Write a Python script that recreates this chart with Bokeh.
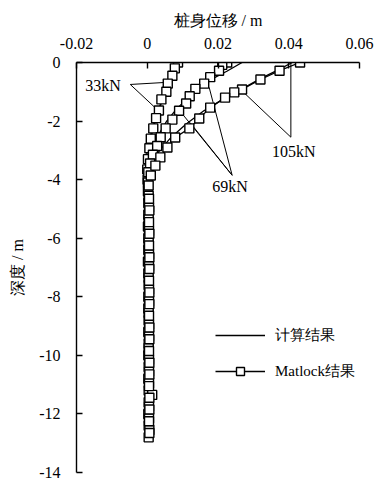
from bokeh.plotting import figure
from bokeh.models import Range1d, Legend, LegendItem, FixedTicker
from bokeh.core.properties import value
from bokeh.embed import file_html
from bokeh.resources import INLINE

# ---------------- data ----------------
x_ticks = [-0.02, 0, 0.02, 0.04, 0.06]
x_tick_labels = ["-0.02", "0", "0.02", "0.04", "0.06"]
y_ticks = [0, -2, -4, -6, -8, -10, -12, -14]
y_tick_labels = ["0", "-2", "-4", "-6", "-8", "-10", "-12", "-14"]

# computed results (计算结果)
calc33_depth = [0, -0.3, -0.7, -1.1, -1.5, -2.0, -2.5, -3.0, -3.5, -4.0, -4.5, -5.5, -7.0, -12.8]
calc33_disp = [0.0085, 0.0076, 0.0064, 0.0050, 0.0036, 0.0021, 0.0009, 0.0000, -0.0005, -0.0006, -0.0004, -0.0001, 0.0000, 0.0000]

calc69_depth = [0, -0.3, -0.55, -0.85, -1.2, -1.6, -2.0, -2.5, -3.0, -3.5, -4.0, -4.5, -5.5, -7.0, -12.8]
calc69_disp = [0.0268, 0.0225, 0.0185, 0.0150, 0.0115, 0.0082, 0.0055, 0.0030, 0.0012, 0.0000, -0.0006, -0.0005, -0.0002, 0.0000, 0.0000]

calc105_depth = [0, -0.25, -0.55, -0.9, -1.25, -1.65, -2.1, -2.55, -3.0, -3.45, -3.9, -4.3, -5.0, -6.0, -7.5, -12.8]
calc105_disp = [0.0410, 0.0370, 0.0320, 0.0268, 0.0215, 0.0160, 0.0110, 0.0068, 0.0035, 0.0012, -0.0002, -0.0006, -0.0004, -0.0001, 0.0000, 0.0000]

# Matlock results (Matlock结果)
mat33_depth = [0, -0.2, -0.45, -0.72, -1.0, -1.26, -1.64, -1.9, -2.25, -2.6, -2.93, -3.3, -3.65, -4.0,
               -4.4, -4.8, -5.2, -5.6, -6.0, -6.4, -6.8, -7.2, -7.6, -8.0, -8.4, -8.8, -9.2, -9.6,
               -10.0, -10.4, -10.8, -11.2, -11.6, -12.0, -12.4, -12.8]
mat33_disp = [0.0087, 0.0078, 0.0071, 0.0058, 0.0054, 0.0040, 0.0033, 0.0025, 0.0017, 0.0010, 0.0006, 0.0002, 0.0000, 0.0001,
              0.0002, 0.0003, 0.0003, 0.0002, 0.0003, 0.0003, 0.0002, 0.0003, 0.0004, 0.0003, 0.0003, 0.0004, 0.0003, 0.0004,
              0.0003, 0.0004, 0.0003, 0.0004, 0.0004, 0.0003, 0.0004, 0.0004]

mat69_depth = [0, -0.08, -0.28, -0.5, -0.72, -0.9, -1.15, -1.4, -1.65, -1.95, -2.25, -2.55, -2.85, -3.15, -3.45, -3.75,
               -4.1, -4.55, -4.95, -5.35, -5.75, -6.15, -6.55, -6.95, -7.35, -7.75, -8.15, -8.55, -8.95,
               -9.35, -9.75, -10.15, -10.55, -10.95, -11.35, -11.75, -12.15, -12.55]
mat69_disp = [0.0226, 0.0212, 0.0203, 0.0178, 0.0161, 0.0136, 0.0120, 0.0110, 0.0090, 0.0071, 0.0052, 0.0038, 0.0028, 0.0016, 0.0008, 0.0003,
              0.0002, 0.0004, 0.0005, 0.0004, 0.0005, 0.0004, 0.0005, 0.0005, 0.0004, 0.0005, 0.0005, 0.0004, 0.0005,
              0.0005, 0.0004, 0.0005, 0.0005, 0.0005, 0.0014, 0.0005, 0.0005, 0.0006]

mat105_depth = [0, -0.28, -0.58, -0.92, -1.02, -1.2, -1.54, -1.91, -2.25, -2.56, -2.9, -3.24, -3.52, -3.86, -4.2,
                -4.65, -5.05, -5.45, -5.85, -6.25, -6.65, -7.05, -7.45, -7.85, -8.25, -8.65, -9.05, -9.45,
                -9.85, -10.25, -10.65, -11.05, -11.45, -11.85, -12.25, -12.65]
mat105_disp = [0.0432, 0.0374, 0.0320, 0.0268, 0.0246, 0.0220, 0.0178, 0.0147, 0.0119, 0.0079, 0.0057, 0.0037, 0.0023, 0.0010, 0.0004,
               0.0005, 0.0006, 0.0005, 0.0006, 0.0005, 0.0006, 0.0006, 0.0005, 0.0006, 0.0006, 0.0005, 0.0006, 0.0006,
               0.0005, 0.0006, 0.0006, 0.0005, 0.0006, 0.0006, 0.0005, 0.0006]

# load-case labels and their leader lines
load_labels = ["33kN", "69kN", "105kN"]
label_x = [-0.0175, 0.0184, 0.0353]
label_y = [-0.80, -4.25, -3.05]
leader_x0 = [-0.0048, -0.0048, 0.0240, 0.0240, 0.0240, 0.0406, 0.0406]
leader_y0 = [-0.75, -0.75, -3.85, -3.85, -3.85, -2.55, -2.55]
leader_x1 = [0.0052, 0.0031, 0.0175, 0.0090, 0.0121, 0.0406, 0.0262]
leader_y1 = [-0.68, -1.64, -0.85, -1.62, -2.05, 0.0, -0.90]

SERIF = "Liberation Serif"

# ---------------- figure ----------------
p = figure(width=376, height=480, x_range=Range1d(-0.02, 0.06), y_range=Range1d(-14, 0),
           output_backend="svg", toolbar_location=None, x_axis_location="above",
           min_border_left=76, min_border_right=17, min_border_top=62, min_border_bottom=8)
p.outline_line_color = None
p.grid.visible = False
p.background_fill_color = "white"
p.border_fill_color = "white"

for ax, ticks, labels, lab in [(p.xaxis[0], x_ticks, x_tick_labels, "桩身位移 / m"),
                               (p.yaxis[0], y_ticks, y_tick_labels, "深度 / m")]:
    ax.ticker = FixedTicker(ticks=ticks)
    ax.major_label_overrides = {t: l for t, l in zip(ticks, labels)}
    ax.axis_line_color = "black"
    ax.axis_line_width = 1.4
    ax.major_tick_line_color = "black"
    ax.major_tick_line_width = 1.4
    ax.major_tick_in = 6
    ax.major_tick_out = 0
    ax.minor_tick_line_color = None
    ax.major_label_text_font = SERIF
    ax.major_label_text_font_size = "16px"
    ax.major_label_text_color = "black"
    ax.axis_label = lab
    ax.axis_label_text_font = SERIF
    ax.axis_label_text_font_style = "normal"
    ax.axis_label_text_font_size = "16px"
    ax.axis_label_text_color = "black"

p.xaxis.major_label_standoff = 14
p.xaxis.axis_label_standoff = 6
p.yaxis.major_label_standoff = 16
p.yaxis.axis_label_standoff = 10

# leader lines
p.segment(x0=leader_x0, y0=leader_y0, x1=leader_x1, y1=leader_y1, line_color="black", line_width=1.0)

# Matlock connecting lines
lw = 1.3
m_lines = []
for xs, ys in [(mat33_disp, mat33_depth), (mat69_disp, mat69_depth), (mat105_disp, mat105_depth)]:
    m_lines.append(p.line(xs, ys, line_color="black", line_width=lw))

# computed lines
c_lines = []
for xs, ys in [(calc33_disp, calc33_depth), (calc69_disp, calc69_depth), (calc105_disp, calc105_depth)]:
    c_lines.append(p.line(xs, ys, line_color="black", line_width=lw))

# Matlock markers
m_marks = []
for xs, ys in [(mat33_disp, mat33_depth), (mat69_disp, mat69_depth), (mat105_disp, mat105_depth)]:
    m_marks.append(p.scatter(xs, ys, marker="square", size=9, fill_color="white",
                             line_color="black", line_width=1.4))

# load-case text
p.text(x=label_x, y=label_y, text=load_labels, text_font=value(SERIF), text_font_size="16px",
       text_color="black", text_baseline="middle", text_align="left")

legend = Legend(items=[LegendItem(label="计算结果", renderers=[c_lines[2]]),
                       LegendItem(label="Matlock结果", renderers=[m_lines[2], m_marks[2]])],
                location=(139, 91))
legend.glyph_width = 50
legend.glyph_height = 20
legend.label_height = 20
legend.spacing = 16
legend.padding = 0
legend.margin = 0
legend.label_standoff = 10
legend.border_line_color = None
legend.background_fill_alpha = 0
legend.label_text_font = SERIF
legend.label_text_font_size = "15px"
legend.label_text_color = "black"
p.add_layout(legend)

open("out.html", "w").write(file_html(p, INLINE))
